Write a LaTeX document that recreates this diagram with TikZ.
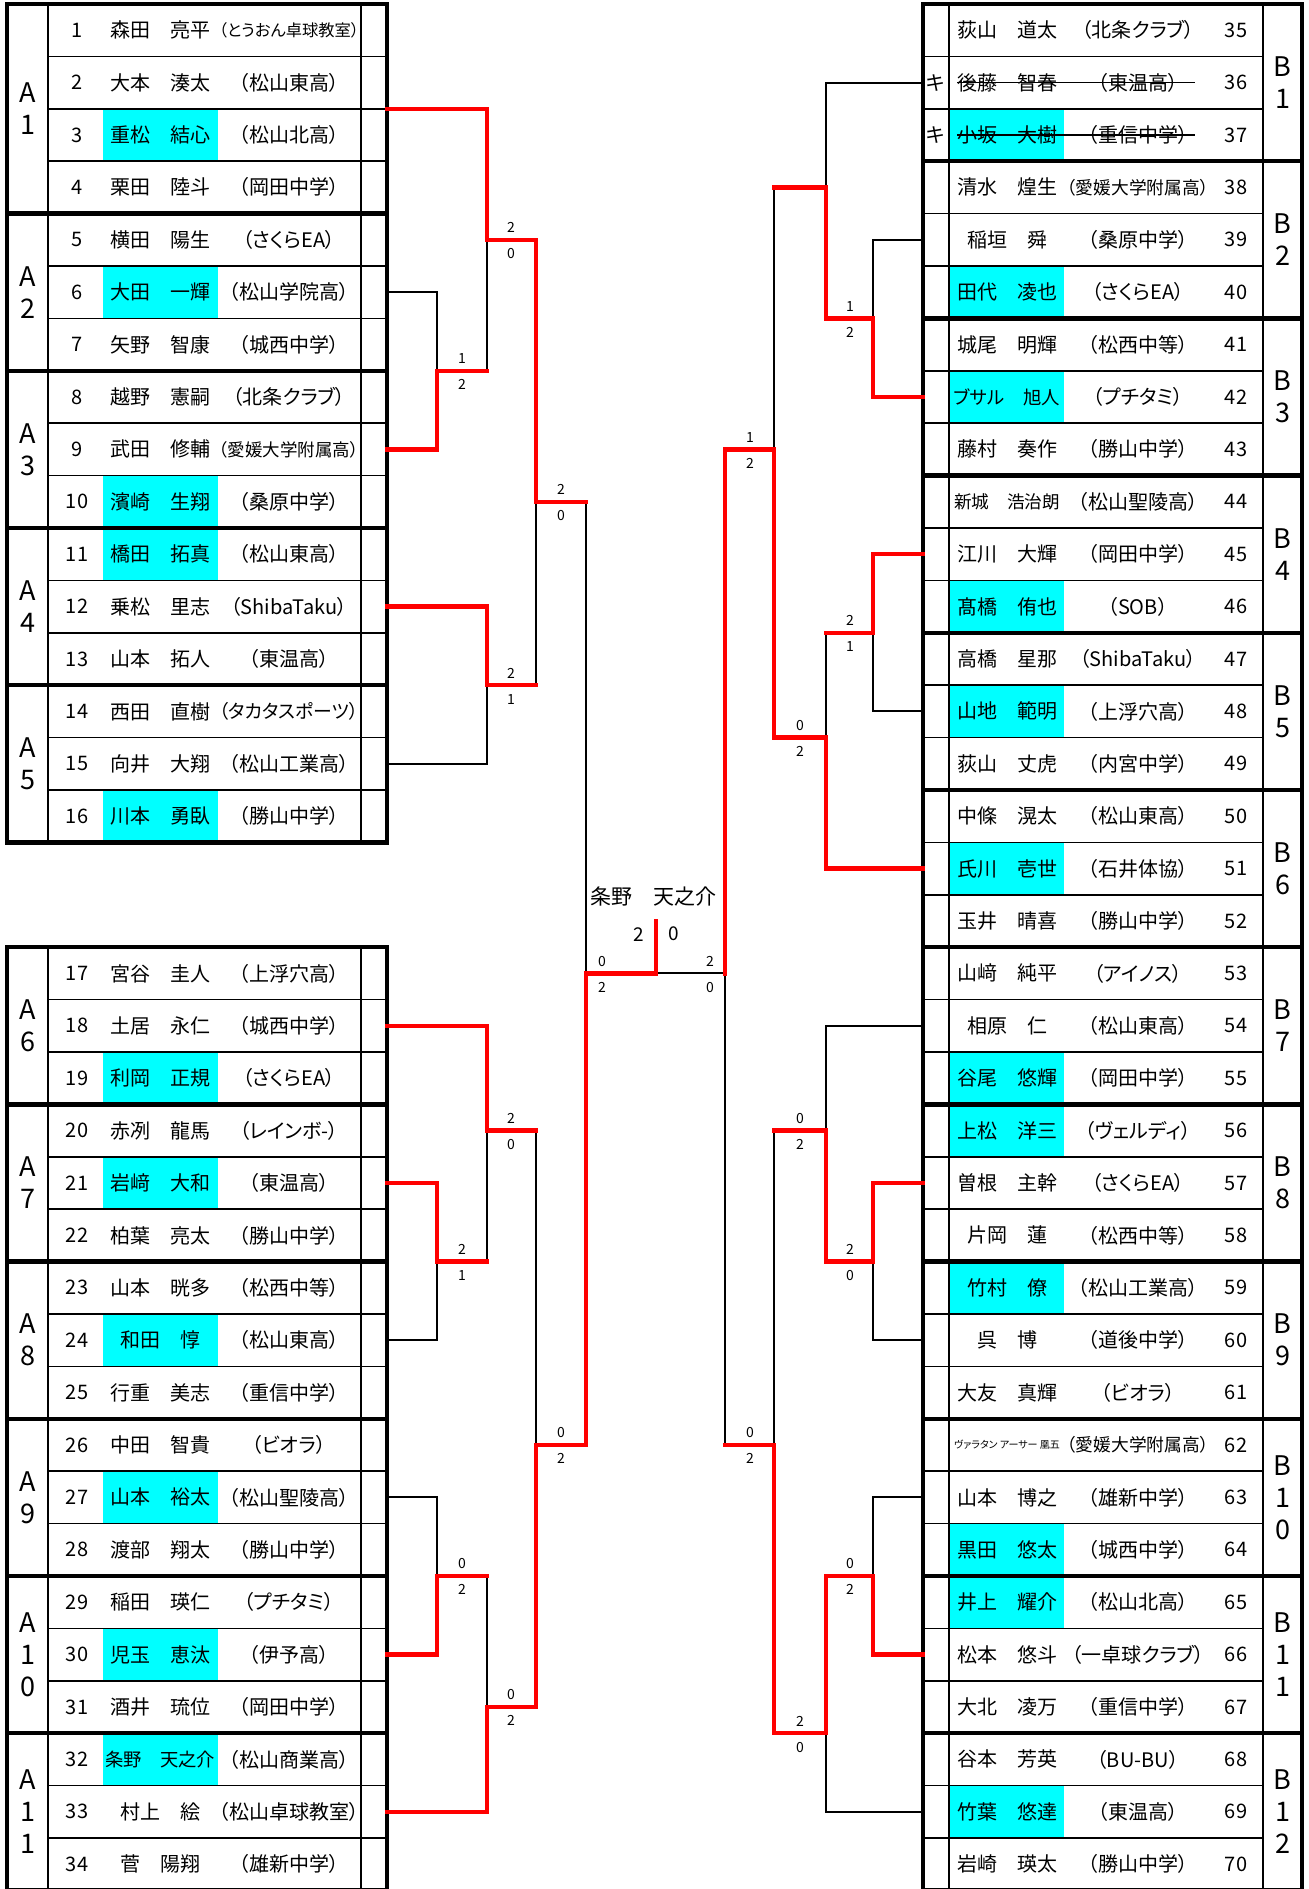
\documentclass[tikz,border=0pt]{standalone}
\usepackage{fontspec}
\setmainfont[RawFeature=+palt]{Noto Sans CJK JP}
\usetikzlibrary{calc}
\definecolor{seed}{RGB}{0,255,255}
% shrink a text to a width, as the sheet does
\newsavebox\fitbox
\newcommand\fitto[2]{\sbox\fitbox{#2}\ifdim\wd\fitbox>#1\relax\resizebox{#1}{!}{\usebox\fitbox}\else\usebox\fitbox\fi}

\begin{document}
\begin{tikzpicture}[
    x=1pt, y=-26.2pt,
    win/.style={draw=red, line width=4.5pt, line cap=rect},
    lose/.style={draw=black, line width=2pt},
    thinrule/.style={line width=1.6pt},
    thickrule/.style={line width=4.5pt},
    txt/.style={inner sep=0pt, font=\fontsize{20}{20}\selectfont},
    grp/.style={inner sep=0pt, align=center, font=\fontsize{27}{32}\selectfont},
    score/.style={inner sep=0pt, font=\fontsize{14}{14}\selectfont}
]
\useasboundingbox (0,-0.1527) rectangle (1309,71.947);

% left block, players 1-34
\foreach \i/\nm/\cl/\hl in {
    1/森田　亮平/（とうおん卓球教室）/0, 2/大本　湊太/（松山東高）/0,
    3/重松　結心/（松山北高）/1, 4/栗田　陸斗/（岡田中学）/0,
    5/横田　陽生/（さくらEA）/0, 6/大田　一輝/（松山学院高）/1,
    7/矢野　智康/（城西中学）/0, 8/越野　憲嗣/（北条クラブ）/0,
    9/武田　修輔/（愛媛大学附属高）/0, 10/濱崎　生翔/（桑原中学）/1,
    11/橋田　拓真/（松山東高）/1, 12/乗松　里志/（ShibaTaku）/0,
    13/山本　拓人/（東温高）/0, 14/西田　直樹/（タカタスポーツ）/0,
    15/向井　大翔/（松山工業高）/0, 16/川本　勇臥/（勝山中学）/1,
    17/宮谷　圭人/（上浮穴高）/0, 18/土居　永仁/（城西中学）/0,
    19/利岡　正規/（さくらEA）/1, 20/赤冽　龍馬/（レインボ-）/0,
    21/岩﨑　大和/（東温高）/1, 22/柏葉　亮太/（勝山中学）/0,
    23/山本　晄多/（松西中等）/0, 24/和田　惇/（松山東高）/1,
    25/行重　美志/（重信中学）/0, 26/中田　智貴/（ビオラ）/0,
    27/山本　裕太/（松山聖陵高）/1, 28/渡部　翔太/（勝山中学）/0,
    29/稲田　瑛仁/（プチタミ）/0, 30/児玉　恵汰/（伊予高）/1,
    31/酒井　琉位/（岡田中学）/0, 32/条野　天之介/（松山商業高）/1,
    33/村上　絵/（松山卓球教室）/0, 34/菅　陽翔/（雄新中学）/0} {
  \pgfmathtruncatemacro\g{\i<17 ? \i : \i+2}
  \ifnum\hl=1 \fill[seed] (103,{2*\g-2}) rectangle (218,{2*\g}); \fi
  \node[txt] (p\i) at (77,{2*\g-1}) {\i};
  \node[txt] (n\i) at (160,{2*\g-1}) {\fitto{110pt}{\nm}};
  \node[txt] (c\i) at (289,{2*\g-1}) {\fitto{140pt}{\cl}};
}

% right block, players 35-70
\foreach \i/\nm/\cl/\hl in {
    35/荻山　道太/（北条クラブ）/0, 36/後藤　智春/（東温高）/0,
    37/小坂　大樹/（重信中学）/1, 38/清水　煌生/（愛媛大学附属高）/0,
    39/稲垣　舜/（桑原中学）/0, 40/田代　凌也/（さくらEA）/1,
    41/城尾　明輝/（松西中等）/0, 42/ブサル　旭人/（プチタミ）/1,
    43/藤村　奏作/（勝山中学）/0, 44/新城　浩治朗/（松山聖陵高）/0,
    45/江川　大輝/（岡田中学）/0, 46/髙橋　侑也/（SOB）/1,
    47/高橋　星那/（ShibaTaku）/0, 48/山地　範明/（上浮穴高）/1,
    49/荻山　丈虎/（内宮中学）/0, 50/中條　滉太/（松山東高）/0,
    51/氏川　壱世/（石井体協）/1, 52/玉井　晴喜/（勝山中学）/0,
    53/山﨑　純平/（アイノス）/0, 54/相原　仁/（松山東高）/0,
    55/谷尾　悠輝/（岡田中学）/1, 56/上松　洋三/（ヴェルディ）/1,
    57/曽根　主幹/（さくらEA）/0, 58/片岡　蓮/（松西中等）/0,
    59/竹村　僚/（松山工業高）/1, 60/呉　博/（道後中学）/0,
    61/大友　真輝/（ビオラ）/0, 62/ヴァラタン アーサー 凰五/（愛媛大学附属高）/0,
    63/山本　博之/（雄新中学）/0, 64/黒田　悠太/（城西中学）/1,
    65/井上　耀介/（松山北高）/1, 66/松本　悠斗/（一卓球クラブ）/0,
    67/大北　凌万/（重信中学）/0, 68/谷本　芳英/（BU-BU）/0,
    69/竹葉　悠達/（東温高）/1, 70/岩崎　瑛太/（勝山中学）/0} {
  \pgfmathtruncatemacro\g{\i-34}
  \ifnum\hl=1 \fill[seed] (949,{2*\g-2}) rectangle (1064,{2*\g}); \fi
  \node[txt] (p\i) at (1236,{2*\g-1}) {\i};
  \node[txt] (n\i) at (1007,{2*\g-1}) {\fitto{106pt}{\nm}};
  \node[txt] (c\i) at (1138,{2*\g-1}) {\fitto{142pt}{\cl}};
}

% withdrawn players
\node[txt] (k36) at (936,3) {キ};
\node[txt] (k37) at (936,5) {キ};
\draw[line width=1.5pt] (957,3) -- (1195,3) (957,5) -- (1195,5);

% table rules
\draw[thinrule] (48,0) -- (48,32) (361,0) -- (361,32) (48,36) -- (48,72) (361,36) -- (361,72);
\draw[thinrule] (949,0) -- (949,72) (1263,0) -- (1263,72);
\foreach \k in {2,4,...,30} \draw[thinrule] (48,\k) -- (387,\k);
\foreach \k in {38,40,...,70} \draw[thinrule] (48,\k) -- (387,\k);
\foreach \k in {2,4,...,70} \draw[thinrule] (923,\k) -- (1263,\k);
\foreach \k in {8,14,20,26,42,48,54,60,66} \draw[thickrule] (7,\k) -- (387,\k);
\foreach \k in {6,12,...,66} \draw[thickrule] (923,\k) -- (1302,\k);
\draw[thickrule] (7,0) rectangle (387,32) (7,36) rectangle (387,72) (923,0) rectangle (1302,72);

% group names
\foreach \d/\s/\k in {1/1/4, 2/2/11, 3/3/17, 4/4/23, 5/5/29, 6/6/39,
    7/7/45, 8/8/51, 9/9/57, 10/1\\0/63, 11/1\\1/69}
  \node[grp] (ga\d) at (27.5,\k) {A\\\s};
\foreach \d/\s in {1/1, 2/2, 3/3, 4/4, 5/5, 6/6, 7/7, 8/8, 9/9,
    10/1\\0, 11/1\\1, 12/1\\2}
  \node[grp] (gb\d) at (1282.5,{6*\d-3}) {B\\\s};

% where each group winner leaves the table
\foreach \c/\k in {1/4, 2/11, 3/17, 4/23, 5/29, 6/39, 7/45, 8/51, 9/57, 10/63, 11/69}
  \coordinate (a\c) at (387,\k);
\foreach \c in {1,...,12}
  \coordinate (b\c) at (923,{6*\c-3});

% match points
\coordinate (m1) at (437,14); \coordinate (m2) at (487,9);
\coordinate (m3) at (487,26); \coordinate (m4) at (536,19);
\coordinate (m5) at (437,48); \coordinate (m6) at (487,43);
\coordinate (m7) at (437,60); \coordinate (m8) at (487,65);
\coordinate (m9) at (536,55); \coordinate (sl) at (586,37);
\coordinate (n1) at (873,12); \coordinate (n2) at (826,7);
\coordinate (n3) at (873,24); \coordinate (n4) at (826,28);
\coordinate (n5) at (774,17); \coordinate (n6) at (873,48);
\coordinate (n7) at (826,43); \coordinate (n8) at (873,60);
\coordinate (n9) at (826,66); \coordinate (n10) at (774,55);
\coordinate (sr) at (725,37);
\coordinate (fc) at (656,37); \coordinate (top) at (656,35);

% lost
\draw[lose] (a2) -| (m1) (m1 -| m2) -- (m2) (a5) -| (m3) (m3 -| m4) -- (m4)
  (m4 -| sl) -- (sl) (a8) -| (m5) (m5 -| m6) -- (m6) (a9) -| (m7)
  (m7 -| m8) -- (m8) (m6 -| m9) -- (m9);
\draw[lose] (b2) -| (n1) (b1) -| (n2) (n3 -| n4) -- (n4) (b5) -| (n3)
  (n2 -| n5) -- (n5) (b9) -| (n6) (b7) -| (n7) (b10) -| (n8) (b12) -| (n9)
  (n7 -| n10) -- (n10) (n10 -| sr) -- (sr) (sr) -- (fc);

% won
\draw[win] (a3) -| (m1); \draw[win] (m1) -- (m1 -| m2);
\draw[win] (a1) -| (m2); \draw[win] (m2) -| (m4); \draw[win] (m4) -- (m4 -| sl);
\draw[win] (a4) -| (m3); \draw[win] (m3) -- (m3 -| m4);
\draw[win] (a7) -| (m5); \draw[win] (m5) -- (m5 -| m6);
\draw[win] (a6) -| (m6); \draw[win] (m6) -- (m6 -| m9);
\draw[win] (a10) -| (m7); \draw[win] (m7) -- (m7 -| m8);
\draw[win] (a11) -| (m8); \draw[win] (m8) -| (m9); \draw[win] (m9) -| (sl);
\draw[win] (sl) -- (fc) -- (top);
\draw[win] (b3) -| (n1); \draw[win] (n1) -| (n2); \draw[win] (n2) -- (n2 -| n5);
\draw[win] (b4) -| (n3); \draw[win] (n3) -- (n3 -| n4);
\draw[win] (b6) -| (n4); \draw[win] (n4) -| (n5); \draw[win] (n5) -| (sr);
\draw[win] (b8) -| (n6); \draw[win] (n6) -| (n7); \draw[win] (n7) -- (n7 -| n10);
\draw[win] (b11) -| (n8); \draw[win] (n8) -| (n9); \draw[win] (n9) -| (n10);
\draw[win] (n10) -- (n10 -| sr);

% game scores, upper / lower
\foreach \x/\k/\u/\d [count=\c] in {462/14/1/2, 511/9/2/0, 511/26/2/1, 561/19/2/0,
    462/48/2/1, 511/43/2/0, 462/60/0/2, 511/65/0/2, 561/55/0/2, 602/37/0/2,
    850/12/1/2, 850/24/2/1, 800/28/0/2, 750/17/1/2, 850/48/2/0, 800/43/0/2,
    850/60/0/2, 800/66/2/0, 750/55/0/2, 710/37/2/0} {
  \node[score] (su\c) at (\x,{\k-0.46}) {\u};
  \node[score] (sd\c) at (\x,{\k+0.53}) {\d};
}

% champion
\node[txt, font=\fontsize{21}{21}\selectfont] (champ) at (653,34.05) {条野　天之介};
\node[txt, font=\fontsize{19}{19}\selectfont] (fl) at (639,35.5) {2};
\node[txt, font=\fontsize{19}{19}\selectfont] (fr) at (674,35.5) {0};
\end{tikzpicture}
\end{document}
